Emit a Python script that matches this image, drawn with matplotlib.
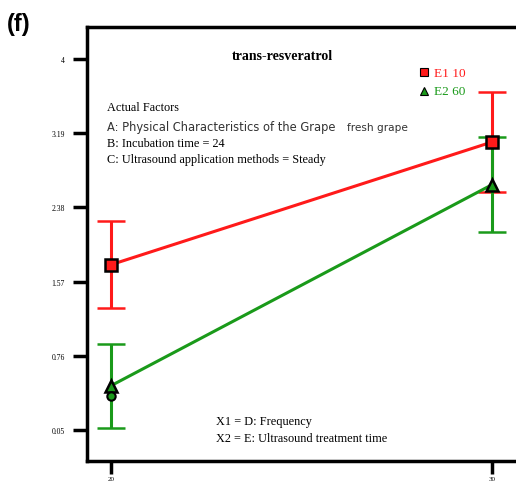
import matplotlib
matplotlib.use("Agg")
from matplotlib import pyplot as plt

# data
x_levels = [20, 30]
e1_mean = [1.755, 3.094]
e1_err = [0.475, 0.55]
e2_mean = [0.434, 2.628]
e2_err = [0.46, 0.52]
design_x = [20]
design_y = [0.325]

ytick_vals = [4.0, 3.19, 2.38, 1.57, 0.76, -0.05]
ytick_labels = ["4", "3.19", "2.38", "1.57", "0.76", "0.05"]

red = "#ff1a1a"
green = "#1a9a1a"

W, H = 516., 489.


def px(x, y):
    # pixel position (from top-left) to figure fraction
    return x / W, 1 - y / H


fig = plt.figure(figsize=(W / 100, H / 100), dpi=100)
ax = fig.add_axes([87 / W, 1 - 462 / H, (530 - 87) / W, (462 - 28) / H])

ax.errorbar(x_levels, e1_mean, yerr=e1_err, color=red, lw=2.2, capsize=10,
            capthick=2.2, elinewidth=2.2, marker="s", ms=9, mfc=red, mec="black",
            mew=1.8, zorder=3)
ax.errorbar(x_levels, e2_mean, yerr=e2_err, color=green, lw=2.2, capsize=10,
            capthick=2.2, elinewidth=2.2, marker="^", ms=9, mfc=green, mec="black",
            mew=1.8, zorder=3)
ax.plot(design_x, design_y, "o", ms=6, mfc=green, mec="black", mew=1.5, zorder=4)

ax.set_xlim(19.37, 31.0)
ax.set_ylim(-0.388, 4.35)
ax.set_xticks(x_levels)
ax.set_xticklabels([str(v) for v in x_levels])
ax.set_yticks(ytick_vals)
ax.set_yticklabels(ytick_labels)
ax.tick_params(axis="y", direction="out", length=10, width=2.5,
               labelsize=5.5, pad=6)
ax.tick_params(axis="x", direction="out", length=9, width=2.5,
               labelsize=5, pad=2)
for lab in ax.get_xticklabels() + ax.get_yticklabels():
    lab.set_fontfamily("Liberation Serif")
for s in ["left", "top", "bottom"]:
    ax.spines[s].set_linewidth(2.5)
ax.spines["right"].set_visible(False)

serif = "Liberation Serif"
fig.text(*px(282, 57), "trans-resveratrol", ha="center", va="center",
         fontsize=10, fontweight="bold", family=serif)
fig.text(*px(107, 108), "Actual Factors", fontsize=8.8, family=serif,
         va="center")
fig.text(*px(107, 127), "A: Physical Characteristics of the Grape",
         fontsize=8.3, family="DejaVu Sans", color="#333333", va="center")
fig.text(*px(347, 128), "fresh grape", fontsize=7.6, family="DejaVu Sans",
         color="#333333", va="center")
fig.text(*px(107, 144), "B: Incubation time = 24", fontsize=8.8,
         family=serif, va="center")
fig.text(*px(107, 160), "C: Ultrasound application methods = Steady",
         fontsize=8.8, family=serif, va="center")
fig.text(*px(216, 422), "X1 = D: Frequency", fontsize=8.8, family=serif,
         va="center")
fig.text(*px(216, 439), "X2 = E: Ultrasound treatment time", fontsize=8.8,
         family=serif, va="center")

# legend
lx, ly1 = px(424, 73)
_, ly2 = px(424, 92)
fig.lines.append(plt.Line2D([lx], [ly1], marker="s", ms=5.5, mfc=red, mec="black",
                            mew=0.8, ls="none", transform=fig.transFigure))
fig.lines.append(plt.Line2D([lx], [ly2], marker="^", ms=6, mfc=green, mec="black",
                            mew=0.8, ls="none", transform=fig.transFigure))
fig.text(*px(434, 74), "E1 10", color=red, fontsize=9.5, family=serif,
         va="center")
fig.text(*px(434, 92), "E2 60", color=green, fontsize=9.5, family=serif,
         va="center")

fig.text(*px(7, 25), "(f)", fontsize=17, fontweight="bold",
         family="Liberation Sans", va="center")

fig.savefig("out.png", dpi=100)
